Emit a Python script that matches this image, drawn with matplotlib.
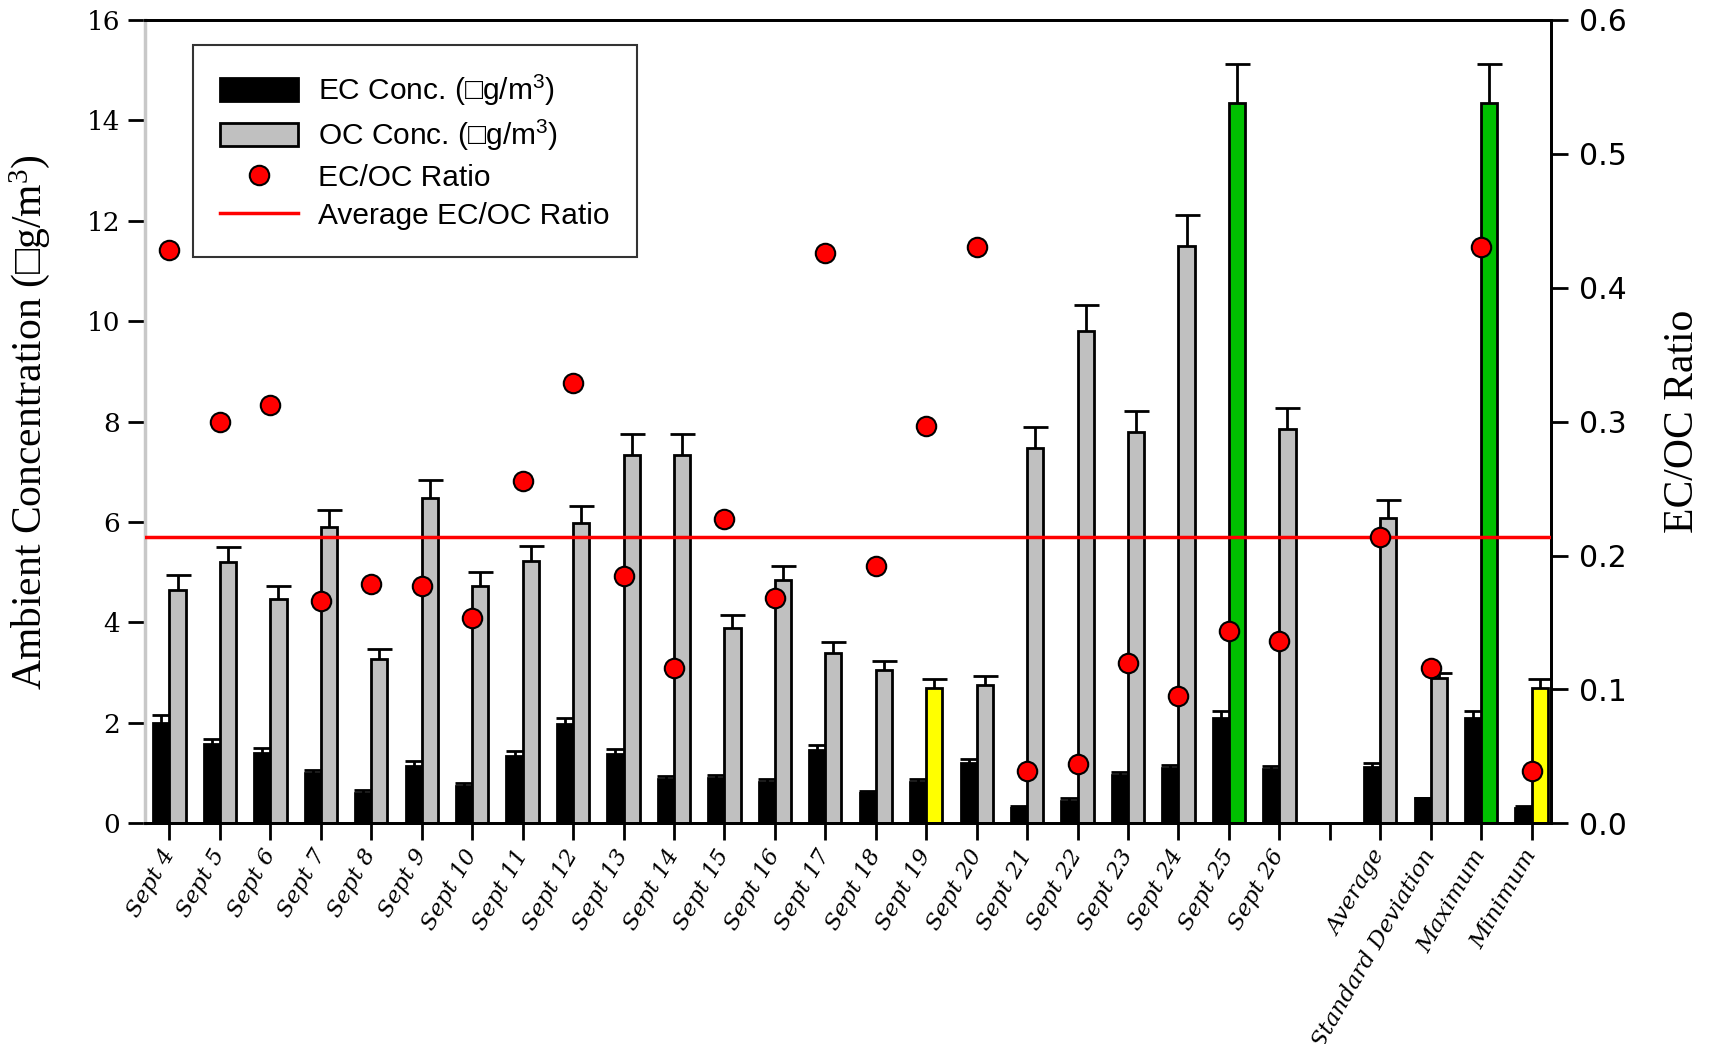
import numpy as np
import matplotlib
matplotlib.use("Agg")
import matplotlib.pyplot as plt
from matplotlib.patches import Patch
from matplotlib.lines import Line2D

# Data
labels = ["Sept 4", "Sept 5", "Sept 6", "Sept 7", "Sept 8", "Sept 9", "Sept 10",
          "Sept 11", "Sept 12", "Sept 13", "Sept 14", "Sept 15", "Sept 16",
          "Sept 17", "Sept 18", "Sept 19", "Sept 20", "Sept 21", "Sept 22",
          "Sept 23", "Sept 24", "Sept 25", "Sept 26", "",
          "Average", "Standard Deviation", "Maximum", "Minimum"]
nan = np.nan
ec = [2.0, 1.58, 1.4, 1.0, 0.6, 1.15, 0.75, 1.35, 1.97, 1.38, 0.88, 0.9, 0.83,
      1.47, 0.6, 0.83, 1.2, 0.3, 0.45, 0.97, 1.1, 2.1, 1.08, nan,
      1.13, 0.5, 2.1, 0.3]
ec_err = [0.15, 0.1, 0.1, 0.07, 0.06, 0.09, 0.06, 0.09, 0.13, 0.1, 0.06, 0.07, 0.05,
          0.1, 0.05, 0.05, 0.08, 0.04, 0.05, 0.06, 0.07, 0.13, 0.07, nan,
          0.07, 0.0, 0.13, 0.04]
oc = [4.65, 5.2, 4.47, 5.9, 3.27, 6.47, 4.73, 5.22, 5.98, 7.33, 7.33, 3.9, 4.85,
      3.4, 3.05, 2.7, 2.75, 7.48, 9.8, 7.8, 11.5, 14.35, 7.85, nan,
      6.08, 2.9, 14.35, 2.7]
oc_err = [0.3, 0.3, 0.26, 0.33, 0.21, 0.36, 0.27, 0.31, 0.34, 0.42, 0.42, 0.25, 0.27,
          0.22, 0.19, 0.18, 0.18, 0.42, 0.53, 0.42, 0.62, 0.77, 0.43, nan,
          0.35, 0.1, 0.77, 0.18]
ratio = [0.428, 0.300, 0.312, 0.166, 0.179, 0.177, 0.153, 0.256, 0.329, 0.185,
         0.116, 0.227, 0.168, 0.426, 0.192, 0.297, 0.430, 0.039, 0.044, 0.120,
         0.095, 0.144, 0.136, nan, 0.214, 0.116, 0.430, 0.039]
avg_ratio = 0.2136
oc_colors = ["#c0c0c0"] * 28
for i in (15, 27):
    oc_colors[i] = "#ffff00"
for i in (21, 26):
    oc_colors[i] = "#00c000"

x = np.arange(len(labels))
w = 0.32
ec = np.array(ec)
oc = np.array(oc)
ec_err = np.array(ec_err)
oc_err = np.array(oc_err)

fig = plt.figure(figsize=(17.13, 10.44), dpi=100)
ax = fig.add_axes([0.0848, 0.2113, 0.8208, 0.7698])
ax2 = ax.twinx()

ax.bar(x - w / 2, ec, w, color="black", edgecolor="black", linewidth=2, zorder=2)
ax.bar(x + w / 2, oc, w, color=oc_colors, edgecolor="black", linewidth=2, zorder=2)

# upward-only error bars with caps
for xs, v, e, cap in ((x - w / 2, ec, ec_err, 13), (x + w / 2, oc, oc_err, 18)):
    ax.errorbar(xs, v, yerr=[np.zeros_like(e), e], fmt="none", ecolor="black",
                elinewidth=2, capsize=0, zorder=1)
    ax.plot(xs, v + e, ls="none", marker="_", ms=cap, mew=2, color="black", zorder=1)

ax.set_xlim(-0.48, 27.39)
ax.set_ylim(0, 16)
ax.set_yticks(range(0, 17, 2))
ax.set_xticks(x)
ax.set_xticklabels(labels, rotation=60, ha="right", va="center",
                   rotation_mode="anchor", family="DejaVu Serif", style="italic",
                   fontsize=16.5)
for lab in ax.get_yticklabels():
    lab.set_family("DejaVu Serif")
    lab.set_fontsize(19)
ax.tick_params(axis="x", length=12, width=2, pad=8)
ax.tick_params(axis="y", length=12, width=2, pad=6)
ax.set_ylabel("Ambient Concentration (\u25a1g/m$\\mathregular{^3}$)",
              family="Liberation Serif", fontsize=30)
ax.yaxis.set_label_coords(-0.066, 0.5)
for s in ("top", "bottom", "right"):
    ax.spines[s].set_linewidth(2)
ax.spines["left"].set_color("#c8c8c8")
ax.spines["left"].set_linewidth(2.5)

ax2.axhline(avg_ratio, color="red", lw=2.5, zorder=3)
ax2.plot(x, ratio, ls="none", marker="o", ms=14, mfc="red", mec="black", mew=1.5,
         zorder=4)
ax2.set_ylim(0, 0.6)
ax2.set_yticks(np.arange(0, 0.61, 0.1))
ax2.set_yticklabels(["%.1f" % v for v in np.arange(0, 0.61, 0.1)],
                    family="DejaVu Sans", fontsize=21.5)
ax2.tick_params(axis="y", length=12, width=2, pad=8)
ax2.set_ylabel("EC/OC Ratio", family="Liberation Serif", fontsize=30, labelpad=26)
ax2.spines["left"].set_visible(False)
for s in ("top", "bottom", "right"):
    ax2.spines[s].set_linewidth(2)

handles = [Patch(facecolor="black", edgecolor="black", lw=2),
           Patch(facecolor="#c0c0c0", edgecolor="black", lw=2),
           Line2D([], [], ls="none", marker="o", ms=14, mfc="red", mec="black", mew=1.5),
           Line2D([], [], color="red", lw=2.5)]
names = ["EC Conc. (\u25a1g/m$\\mathregular{^3}$)",
         "OC Conc. (\u25a1g/m$\\mathregular{^3}$)", "EC/OC Ratio",
         "Average EC/OC Ratio"]
leg = ax2.legend(handles, names, loc="upper left", bbox_to_anchor=(0.034, 0.968),
                 borderaxespad=0, prop={"family": "Liberation Sans", "size": 21.5},
                 frameon=True, fancybox=False, handlelength=2.6, handleheight=0.8,
                 handletextpad=0.7, labelspacing=0.35, borderpad=0.9)
leg.get_frame().set_edgecolor("black")
leg.get_frame().set_linewidth(1.5)

fig.savefig("out.png", dpi=100)
